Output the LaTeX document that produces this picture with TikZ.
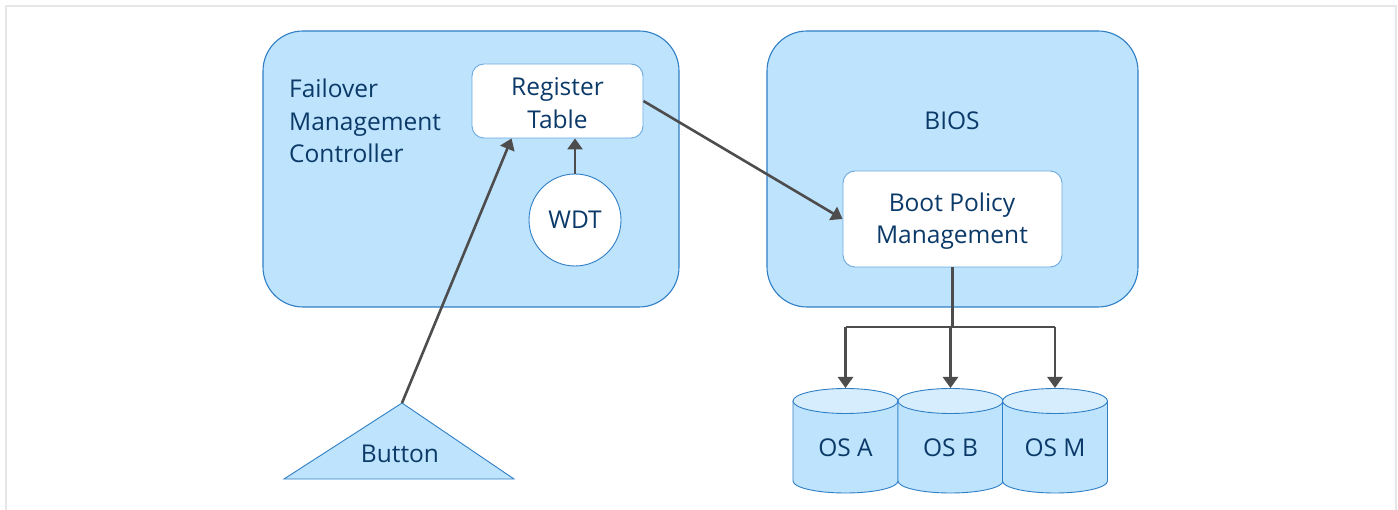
\documentclass[tikz,border=0pt]{standalone}
\usepackage{fontspec}
\setmainfont{Open Sans}
\usetikzlibrary{arrows.meta}

\definecolor{boxfill}{HTML}{BEE3FC}
\definecolor{boxedge}{HTML}{2F7FC6}
\definecolor{inneredge}{HTML}{6AAAE0}
\definecolor{cyltop}{HTML}{D6EDFD}
\definecolor{txt}{HTML}{0B3A69}
\definecolor{wire}{HTML}{4D4D4D}
\definecolor{framecol}{HTML}{E6E6E6}

\tikzset{
  lbl/.style={text=txt, inner sep=0pt, font=\fontsize{24.5}{32.5}\selectfont},
  bigbox/.style={draw=boxedge, fill=boxfill, line width=1.1pt, rounded corners=40pt},
  whitebox/.style={draw=inneredge, fill=white, line width=0.9pt, rounded corners=12pt},
  wirearrow/.style={draw=wire, line width=2.6pt, -{Triangle[width=15pt,length=11pt]}},
  wireline/.style={draw=wire, line width=2.6pt},
  cylbody/.style={fill=boxfill, draw=boxedge, line width=0.9pt},
  cylcap/.style={fill=cyltop, draw=boxedge, line width=0.9pt},
}

\begin{document}
\begin{tikzpicture}[x=1pt, y=-1pt]
  \useasboundingbox (0,0) rectangle (1398,510);
  % outer frame, open at the bottom
  \draw[framecol, line width=2pt] (5.5,510) -- (5.5,6.5) -- (1396,6.5) -- (1396,510);

  % Failover Management Controller block
  \node[bigbox, minimum width=416pt, minimum height=276pt] (fmc) at (471,169) {};
  \node[lbl, align=left, anchor=west] (fmclabel) at (289,121) {Failover\\Management\\Controller};
  \node[whitebox, minimum width=171pt, minimum height=74pt] (reg) at (557.5,101) {};
  \node[lbl, align=center] (reglabel) at (557.5,103) {Register\\Table};
  \node[circle, draw=boxedge, fill=white, line width=0.9pt, minimum size=92pt, lbl] (wdt) at (575,220) {WDT};

  % BIOS block
  \node[bigbox, minimum width=371pt, minimum height=276pt] (bios) at (952.5,169) {};
  \node[lbl] (bioslabel) at (952,121) {BIOS};
  \node[whitebox, minimum width=219pt, minimum height=96pt] (bpm) at (952.5,219) {};
  \node[lbl, align=center] (bpmlabel) at (952,221) {Boot Policy\\Management};

  % Button
  \coordinate (btn) at (402,403);
  \path[fill=boxfill, draw=boxedge, line width=0.9pt] (btn) -- (514,479) -- (284,479) -- cycle;
  \node[lbl] (btnlabel) at (400,454) {Button};

  % OS disks
  \foreach \x/\n/\t in {845.5/osa/OS A, 950.5/osb/OS B, 1055/osm/OS M} {
    \path[cylbody] (\x-52.5,401) -- (\x-52.5,481)
      arc[start angle=180, end angle=360, x radius=52.5pt, y radius=12pt]
      -- (\x+52.5,401) -- cycle;
    \path[cylcap] (\x,401) ellipse[x radius=52.5pt, y radius=12.5pt];
    \node[lbl] (\n) at (\x,448) {\t};
    \coordinate (\n-top) at (\x,388);
  }

  % connectors
  \draw[wirearrow] (wdt.north) -- (wdt.north |- reg.south);
  \coordinate (regin) at ([xshift=40pt]reg.south west);
  \draw[wirearrow] (btn) -- (regin);
  \draw[wirearrow] (reg.east) -- (bpm.west);
  \coordinate (split) at (bpm.south |- 0,327);
  \draw[wireline] (bpm.south) -- (split);
  \draw[wireline] (osa-top |- split) -- (osm-top |- split);
  \draw[wirearrow] (split) -- (split -| osb-top) -- (osb-top);
  \draw[wirearrow] (osa-top |- split) -- (osa-top);
  \draw[wirearrow] (osm-top |- split) -- (osm-top);
\end{tikzpicture}
\end{document}
